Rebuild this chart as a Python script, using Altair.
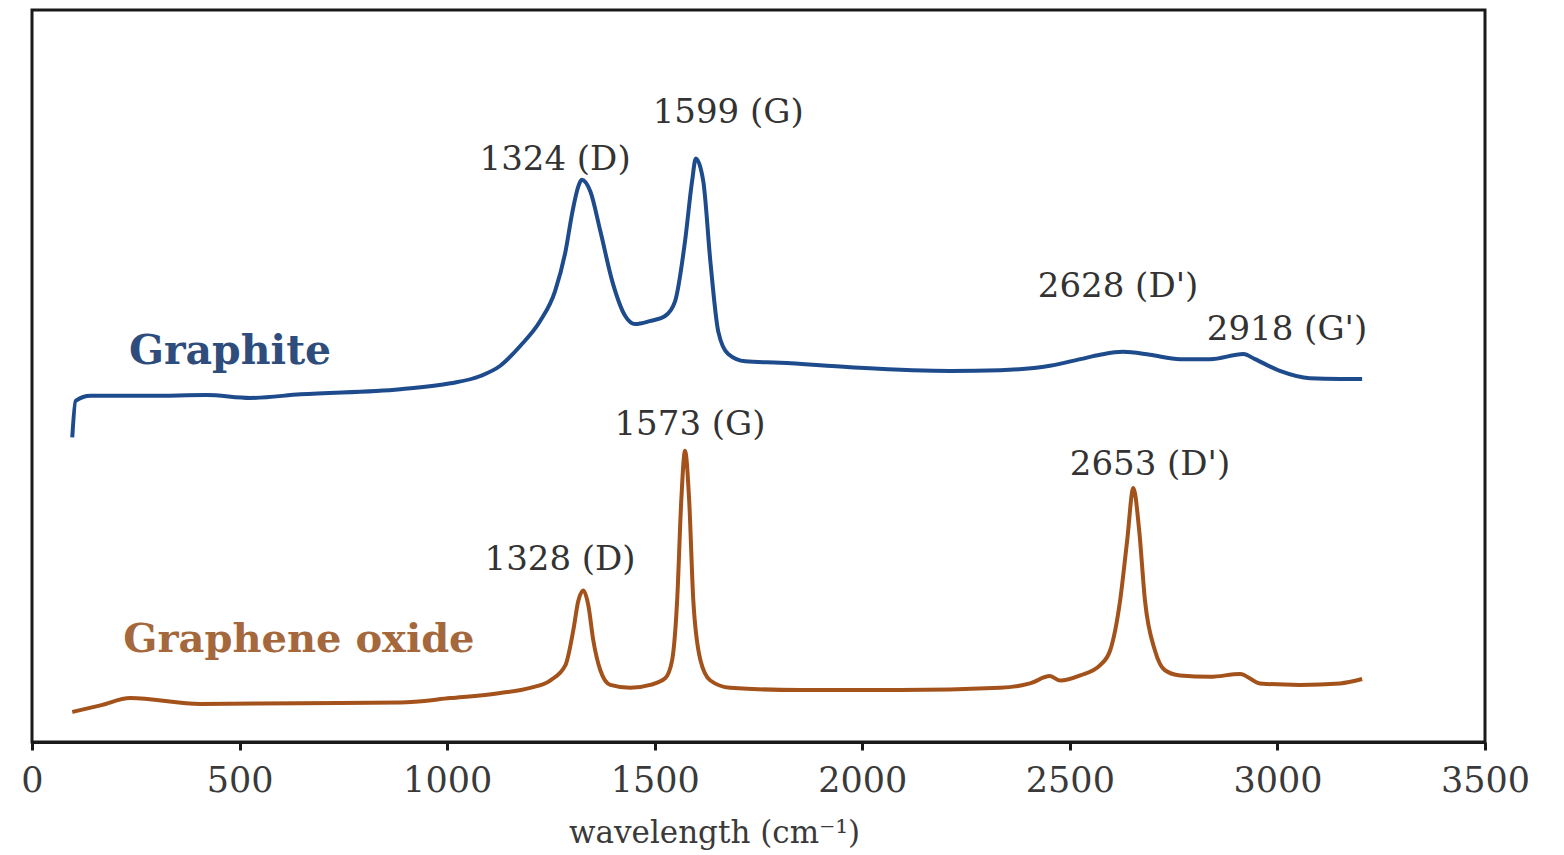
import altair as alt
import pandas as pd

# Raman spectra (x in cm^-1, y intensity in arbitrary units 0-100)
graphite_x = [97, 105, 141, 285, 420, 526, 647, 887, 1008, 1080,
              1128, 1176, 1224, 1260, 1285, 1302, 1316, 1324, 1345, 1369,
              1398, 1429, 1453, 1488, 1525, 1549, 1573, 1590, 1599, 1617,
              1634, 1653, 1677, 1718, 1802, 1971, 2212, 2332, 2452, 2525,
              2573, 2628, 2693, 2765, 2838, 2918, 2946, 3006, 3078, 3151,
              3204]
graphite_y = [41.6, 46.6, 47.3, 47.3, 47.4, 47.0, 47.5, 48.2, 49.0, 50.0,
              51.4, 54.1, 57.5, 61.6, 67.0, 72.5, 75.9, 76.8, 75.2, 69.8,
              62.9, 58.2, 57.1, 57.5, 58.2, 60.2, 68.4, 76.6, 79.7, 76.6,
              65.7, 56.1, 53.0, 52.0, 51.8, 51.2, 50.7, 50.8, 51.4, 52.3,
              52.9, 53.3, 52.9, 52.3, 52.3, 53.0, 52.3, 50.7, 49.7, 49.6,
              49.6]

go_x = [97, 165, 237, 406, 647, 887, 1008, 1128, 1200, 1248,
        1285, 1304, 1316, 1328, 1340, 1352, 1369, 1393, 1441, 1489,
        1525, 1542, 1554, 1564, 1573, 1583, 1593, 1610, 1634, 1682,
        1850, 2091, 2332, 2404, 2452, 2477, 2525, 2573, 2597, 2621,
        2638, 2653, 2667, 2681, 2705, 2729, 2765, 2838, 2910, 2958,
        3054, 3151, 3204]
go_y = [4.1, 5.0, 6.0, 5.2, 5.3, 5.4, 6.0, 6.7, 7.4, 8.4,
        10.5, 15.3, 19.3, 20.7, 18.7, 13.9, 9.8, 7.8, 7.4, 7.8,
        8.7, 11.2, 19.3, 33.0, 39.8, 33.0, 19.3, 11.2, 8.4, 7.4,
        7.1, 7.1, 7.4, 8.0, 9.0, 8.4, 9.1, 10.5, 12.5, 19.3,
        27.5, 34.7, 28.9, 19.3, 12.5, 9.8, 9.1, 8.9, 9.3, 8.0,
        7.8, 8.0, 8.6]

series_names = ["Graphite", "Graphene oxide"]
series_colors = ["#1d4b8b", "#a3521b"]
name_colors = ["#2f4d7c", "#a5673c"]

peak_labels = ["1324 (D)", "1599 (G)", "2628 (D')", "2918 (G')",
               "1573 (G)", "2653 (D')", "1328 (D)"]
peak_x = [1260, 1677, 2616, 3023, 1585, 2693, 1272]
peak_y = [79.5, 85.9, 62.2, 56.3, 43.3, 37.8, 24.9]

name_x = [477, 643]
name_y = [53.3, 13.9]

x_ticks = [0, 500, 1000, 1500, 2000, 2500, 3000, 3500]

spec = pd.concat([
    pd.DataFrame({"x": graphite_x, "y": graphite_y, "series": series_names[0]}),
    pd.DataFrame({"x": go_x, "y": go_y, "series": series_names[1]}),
])
peaks = pd.DataFrame({"x": peak_x, "y": peak_y, "t": peak_labels})
names = pd.DataFrame({"x": name_x, "y": name_y, "t": series_names})

xs = alt.Scale(domain=[0, 3500], nice=False)
ys = alt.Scale(domain=[0, 100], nice=False)

lines = alt.Chart(spec).mark_line(strokeWidth=4, interpolate="monotone").encode(
    x=alt.X("x:Q", scale=xs,
            axis=alt.Axis(values=x_ticks, format="d", title="wavelength (cm⁻¹)", grid=False,
                          labelFont="DejaVu Serif", labelFontSize=35, labelColor="#3a3a3a",
                          labelPadding=13, labelFlush=False, labelOverlap=False,
                          tickSize=8, tickWidth=3, tickColor="#1a1a1a",
                          domainColor="#1a1a1a", domainWidth=3,
                          titleFont="DejaVu Serif", titleFontSize=31, titleFontWeight="normal",
                          titleColor="#3a3a3a", titleX=682, titleY=91,
                          titleAlign="center", titleBaseline="middle")),
    y=alt.Y("y:Q", scale=ys, axis=None),
    color=alt.Color("series:N", scale=alt.Scale(domain=series_names, range=series_colors),
                    legend=None),
    detail="series:N",
)

peak_text = alt.Chart(peaks).mark_text(
    font="DejaVu Serif", fontSize=34, color="#333333", align="center", baseline="middle"
).encode(x=alt.X("x:Q", scale=xs), y=alt.Y("y:Q", scale=ys), text="t:N")

name1 = alt.Chart(names.iloc[[0]]).mark_text(
    font="DejaVu Serif", fontSize=41, fontWeight="bold", color=name_colors[0],
    align="center", baseline="middle"
).encode(x=alt.X("x:Q", scale=xs), y=alt.Y("y:Q", scale=ys), text="t:N")

name2 = alt.Chart(names.iloc[[1]]).mark_text(
    font="DejaVu Serif", fontSize=40, fontWeight="bold", color=name_colors[1],
    align="center", baseline="middle"
).encode(x=alt.X("x:Q", scale=xs), y=alt.Y("y:Q", scale=ys), text="t:N")

chart = alt.layer(lines, peak_text, name1, name2).properties(
    width=1453, height=732,
    autosize=alt.AutoSizeParams(type="none"),
    padding={"left": 32, "top": 10, "right": 79, "bottom": 113},
    background="white",
).configure_view(stroke="#1a1a1a", strokeWidth=3)

chart.save("out.html", embed_options={"renderer": "svg", "actions": False})
